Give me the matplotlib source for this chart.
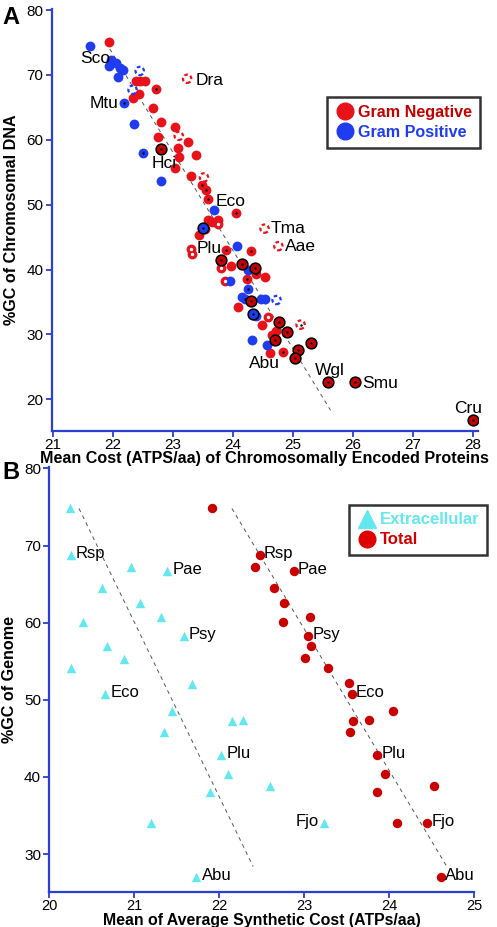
import matplotlib.pyplot as plt
from matplotlib.lines import Line2D

plt.rcParams['font.family'] = ['Liberation Sans', 'DejaVu Sans']

# -----------------------------
# Panel A data (cost vs %GC)
# -----------------------------
neg_x = [21.94, 22.38, 22.46, 22.53, 22.43, 22.33, 22.67, 22.80, 23.03, 22.76, 23.26, 23.08,
         23.10, 23.39, 23.03, 23.30, 23.59, 23.75, 23.54, 23.43, 23.97, 24.54, 24.09, 24.49,
         24.65, 24.72, 24.62, 23.66]
neg_y = [75.0, 69.0, 69.0, 69.0, 67.1, 66.4, 64.9, 62.7, 61.9, 60.5, 59.6, 58.7,
         57.4, 57.6, 55.6, 54.35, 47.7, 47.6, 46.2, 45.3, 40.6, 38.9, 34.2, 31.5,
         29.9, 30.5, 27.2, 47.3]

neg_dot_x = [22.72, 23.48, 23.56, 23.58, 24.06, 23.89, 24.30, 24.39, 24.23, 24.83]
neg_dot_y = [67.8, 53.0, 52.3, 50.9, 48.7, 43.0, 42.8, 39.3, 38.6, 27.3]

neg_ring_x = [22.80, 23.80, 24.15, 24.37, 24.30, 24.77, 24.90, 24.70, 25.09, 25.04, 25.30,
              25.59, 26.03, 28.01]
neg_ring_y = [58.55, 41.4, 40.9, 40.3, 35.2, 31.9, 30.3, 29.1, 27.6, 26.4, 28.7,
              22.7, 22.6, 16.8]

neg_white_x = [23.30, 23.32, 23.76, 23.80, 23.87, 24.58]
neg_white_y = [43.1, 42.4, 47.0, 40.3, 38.2, 32.7]

neg_open_x = [23.10, 23.52, 23.24, 24.53, 24.76, 25.13]
neg_open_y = [60.6, 54.2, 69.4, 46.3, 43.6, 31.5]

pos_x = [21.62, 21.97, 21.93, 22.05, 22.12, 22.17, 22.08, 22.36, 22.80, 23.69, 24.07,
         24.25, 23.95, 24.15, 24.47, 24.54, 24.39, 24.32, 24.57]
pos_y = [74.5, 72.3, 71.3, 71.8, 71.0, 70.7, 69.6, 62.5, 53.6, 49.1, 43.7,
         39.85, 38.2, 35.7, 35.5, 35.5, 32.9, 29.2, 28.35]

pos_dot_x = [22.19, 22.51, 24.25, 24.20]
pos_dot_y = [65.7, 57.95, 37.0, 35.5]

pos_ring_x = [23.51, 24.34]
pos_ring_y = [46.4, 33.2]

pos_open_x = [22.45, 22.33, 24.73]
pos_open_y = [70.6, 67.7, 35.3]

a_labels = ['Sco', 'Dra', 'Mtu', 'Hci', 'Eco', 'Tma', 'Aae', 'Plu', 'Abu', 'Wgl', 'Smu', 'Cru']
a_label_x = [21.71, 23.62, 21.86, 22.86, 23.96, 24.92, 25.13, 23.61, 24.52, 25.61, 26.46, 27.92]
a_label_y = [72.6, 69.2, 65.6, 56.4, 50.5, 46.3, 43.5, 43.3, 25.5, 24.5, 22.5, 18.6]

a_fit_x = [21.95, 25.63]
a_fit_y = [74.0, 18.3]

# -----------------------------
# Panel B data (synthetic cost vs %GC)
# -----------------------------
ext_x = [20.24, 20.25, 20.96, 21.39, 20.62, 21.07, 21.32, 20.40, 21.58, 20.675, 20.875, 20.26,
         21.675, 20.655, 21.44, 22.15, 22.28, 21.35, 22.02, 22.10, 22.60, 21.89, 21.20,
         23.24, 21.73]
ext_y = [74.8, 68.8, 67.2, 66.7, 64.5, 62.6, 60.7, 60.1, 58.3, 57.0, 55.3, 54.1,
         52.1, 50.8, 48.5, 47.2, 47.4, 45.8, 42.8, 40.35, 38.8, 38.0, 34.1,
         34.1, 27.1]

tot_x = [21.91, 22.48, 22.42, 22.88, 22.65, 22.76, 23.07, 22.75, 23.05, 23.08, 23.01, 23.28,
         23.53, 23.56, 24.05, 23.58, 23.76, 23.54, 23.86, 23.95, 24.53, 23.86, 24.09,
         24.45, 24.61]
tot_y = [74.9, 68.8, 67.2, 66.7, 64.5, 62.6, 60.7, 60.1, 58.3, 57.0, 55.4, 54.1,
         52.2, 50.8, 48.5, 47.25, 47.4, 45.85, 42.8, 40.4, 38.8, 38.0, 34.1,
         34.1, 27.1]

b_labels = ['Rsp', 'Pae', 'Psy', 'Eco', 'Plu', 'Fjo', 'Abu']
ext_label_idx = [1, 3, 8, 13, 18, 23, 24]
tot_label_idx = [1, 3, 8, 13, 18, 23, 24]

ext_fit_x = [20.35, 22.40]
ext_fit_y = [74.8, 28.4]
tot_fit_x = [22.15, 24.68]
tot_fit_y = [74.8, 28.4]

# -----------------------------
# Styles
# -----------------------------
RED = '#e8121a'
DARKRED = '#c40000'
BLUE = '#1f3cf0'
AXBLUE = '#2b3fd6'
CYAN = '#62e8ee'
TOTRED = '#c80000'


def style_axes(ax):
    for side in ['top', 'right']:
        ax.spines[side].set_visible(False)
    for side in ['left', 'bottom']:
        ax.spines[side].set_color(AXBLUE)
        ax.spines[side].set_linewidth(1.6)
    ax.tick_params(direction='out', length=4, width=1.3, color=AXBLUE,
                   labelcolor='black', labelsize=11, pad=2)


fig = plt.figure(figsize=(4.97, 9.27), dpi=100)

# -----------------------------
# Panel A
# -----------------------------
axA = fig.add_axes([0.104, 0.535, 0.858, 0.4556])
axA.plot(a_fit_x, a_fit_y, color='#555555', lw=0.7, dashes=(4, 4), zorder=1)

s = 50
axA.scatter(neg_x, neg_y, s=s, color=RED, lw=0, zorder=2)
axA.scatter(neg_dot_x, neg_dot_y, s=s, color=RED, lw=0, zorder=2)
axA.scatter(neg_dot_x, neg_dot_y, s=3, color='black', lw=0, zorder=4)
axA.scatter(neg_white_x, neg_white_y, s=s, color=RED, lw=0, zorder=2)
axA.scatter(neg_white_x, neg_white_y, s=6, color='white', lw=0, zorder=4)
axA.scatter(neg_ring_x, neg_ring_y, s=s + 10, facecolor=DARKRED, edgecolor='black', lw=1.1, zorder=3)
axA.scatter(neg_ring_x, neg_ring_y, s=3, color='black', lw=0, zorder=4)
axA.scatter(neg_open_x, neg_open_y, s=36, facecolor='white', edgecolor=RED, lw=1.6,
            linestyle=(0, (1.6, 1.2)), zorder=3)
axA.scatter(neg_open_x[-1:], neg_open_y[-1:], s=3, color='black', lw=0, zorder=4)

axA.scatter(pos_x, pos_y, s=s, color=BLUE, lw=0, zorder=2)
axA.scatter(pos_dot_x, pos_dot_y, s=s, color=BLUE, lw=0, zorder=2)
axA.scatter(pos_dot_x, pos_dot_y, s=3, color='black', lw=0, zorder=4)
axA.scatter(pos_ring_x, pos_ring_y, s=s + 10, facecolor=BLUE, edgecolor='black', lw=1.1, zorder=3)
axA.scatter(pos_ring_x, pos_ring_y, s=3, color='black', lw=0, zorder=4)
axA.scatter(pos_open_x, pos_open_y, s=36, facecolor='white', edgecolor=BLUE, lw=1.6,
            linestyle=(0, (1.6, 1.2)), zorder=3)

for lab, lx, ly in zip(a_labels, a_label_x, a_label_y):
    axA.text(lx, ly, lab, fontsize=12.5, ha='center', va='center', zorder=5)

axA.set_xlim(20.983, 28.088)
axA.set_ylim(15.1, 80.2)
axA.set_xticks(range(21, 29))
axA.set_yticks(range(20, 81, 10))
style_axes(axA)
axA.tick_params(axis='x', pad=1)
axA.set_xlabel('Mean Cost (ATPS/aa) of Chromosomally Encoded Proteins',
               fontsize=11.6, fontweight='bold', labelpad=-1)
axA.set_ylabel('%GC of Chromosomal DNA', fontsize=11.6, fontweight='bold', labelpad=5)

handlesA = [Line2D([], [], ls='none', marker='o', ms=12, color=RED),
            Line2D([], [], ls='none', marker='o', ms=12, color=BLUE)]
legA = axA.legend(handlesA, ['Gram Negative', 'Gram Positive'], loc='upper right',
                  bbox_to_anchor=(480 / 497, 1 - 97 / 927), bbox_transform=fig.transFigure,
                  borderaxespad=0, frameon=True, fancybox=False, handletextpad=0.2,
                  handlelength=1.2, borderpad=0.5, labelspacing=0.3,
                  prop={'weight': 'bold', 'size': 11.6})
legA.get_frame().set_edgecolor('black')
legA.get_frame().set_linewidth(1.8)
for t, c in zip(legA.get_texts(), [DARKRED, BLUE]):
    t.set_color(c)

# -----------------------------
# Panel B
# -----------------------------
axB = fig.add_axes([0.0992, 0.0374, 0.8545, 0.459])
axB.plot(ext_fit_x, ext_fit_y, color='#555555', lw=0.7, dashes=(4, 4), zorder=1)
axB.plot(tot_fit_x, tot_fit_y, color='#555555', lw=0.7, dashes=(4, 4), zorder=1)
axB.scatter(ext_x, ext_y, s=46, marker='^', color=CYAN, lw=0, zorder=2)
axB.scatter(tot_x, tot_y, s=46, marker='o', color=TOTRED, lw=0, zorder=2)

for lab, i in zip(b_labels, ext_label_idx):
    if lab == 'Fjo':
        axB.annotate(lab, (ext_x[i], ext_y[i]), xytext=(-4, 1), textcoords='offset points',
                     ha='right', va='center', fontsize=12)
    else:
        axB.annotate(lab, (ext_x[i], ext_y[i]), xytext=(4, 1), textcoords='offset points',
                     ha='left', va='center', fontsize=12)
for lab, i in zip(b_labels, tot_label_idx):
    axB.annotate(lab, (tot_x[i], tot_y[i]), xytext=(3, 1), textcoords='offset points',
                 ha='left', va='center', fontsize=12)

axB.set_xlim(20, 25)
axB.set_ylim(25.05, 80.2)
axB.set_xticks(range(20, 26))
axB.set_yticks(range(30, 81, 10))
style_axes(axB)
axB.tick_params(axis='x', pad=0.5, labelsize=10.5)
axB.set_xlabel('Mean of Average Synthetic Cost (ATPs/aa)', fontsize=11.4,
               fontweight='bold', labelpad=0)
axB.set_ylabel('%GC of Genome', fontsize=11.6, fontweight='bold', labelpad=5)

handlesB = [Line2D([], [], ls='none', marker='^', ms=13, color=CYAN),
            Line2D([], [], ls='none', marker='o', ms=12, color='#e00000')]
legB = axB.legend(handlesB, ['Extracellular', 'Total'], loc='upper right',
                  bbox_to_anchor=(487 / 497, 1 - 505 / 927), bbox_transform=fig.transFigure,
                  borderaxespad=0, frameon=True, fancybox=False, handletextpad=0.2,
                  handlelength=1.2, borderpad=0.45, labelspacing=0.3,
                  prop={'weight': 'bold', 'size': 12})
legB.get_frame().set_edgecolor('black')
legB.get_frame().set_linewidth(1.8)
for t, c in zip(legB.get_texts(), [CYAN, '#d00000']):
    t.set_color(c)

# panel letters
fig.text(0.004, 0.993, 'A', fontsize=17, fontweight='bold', va='top', ha='left')
fig.text(0.004, 0.503, 'B', fontsize=17, fontweight='bold', va='top', ha='left')

fig.savefig('out.png', dpi=100)
